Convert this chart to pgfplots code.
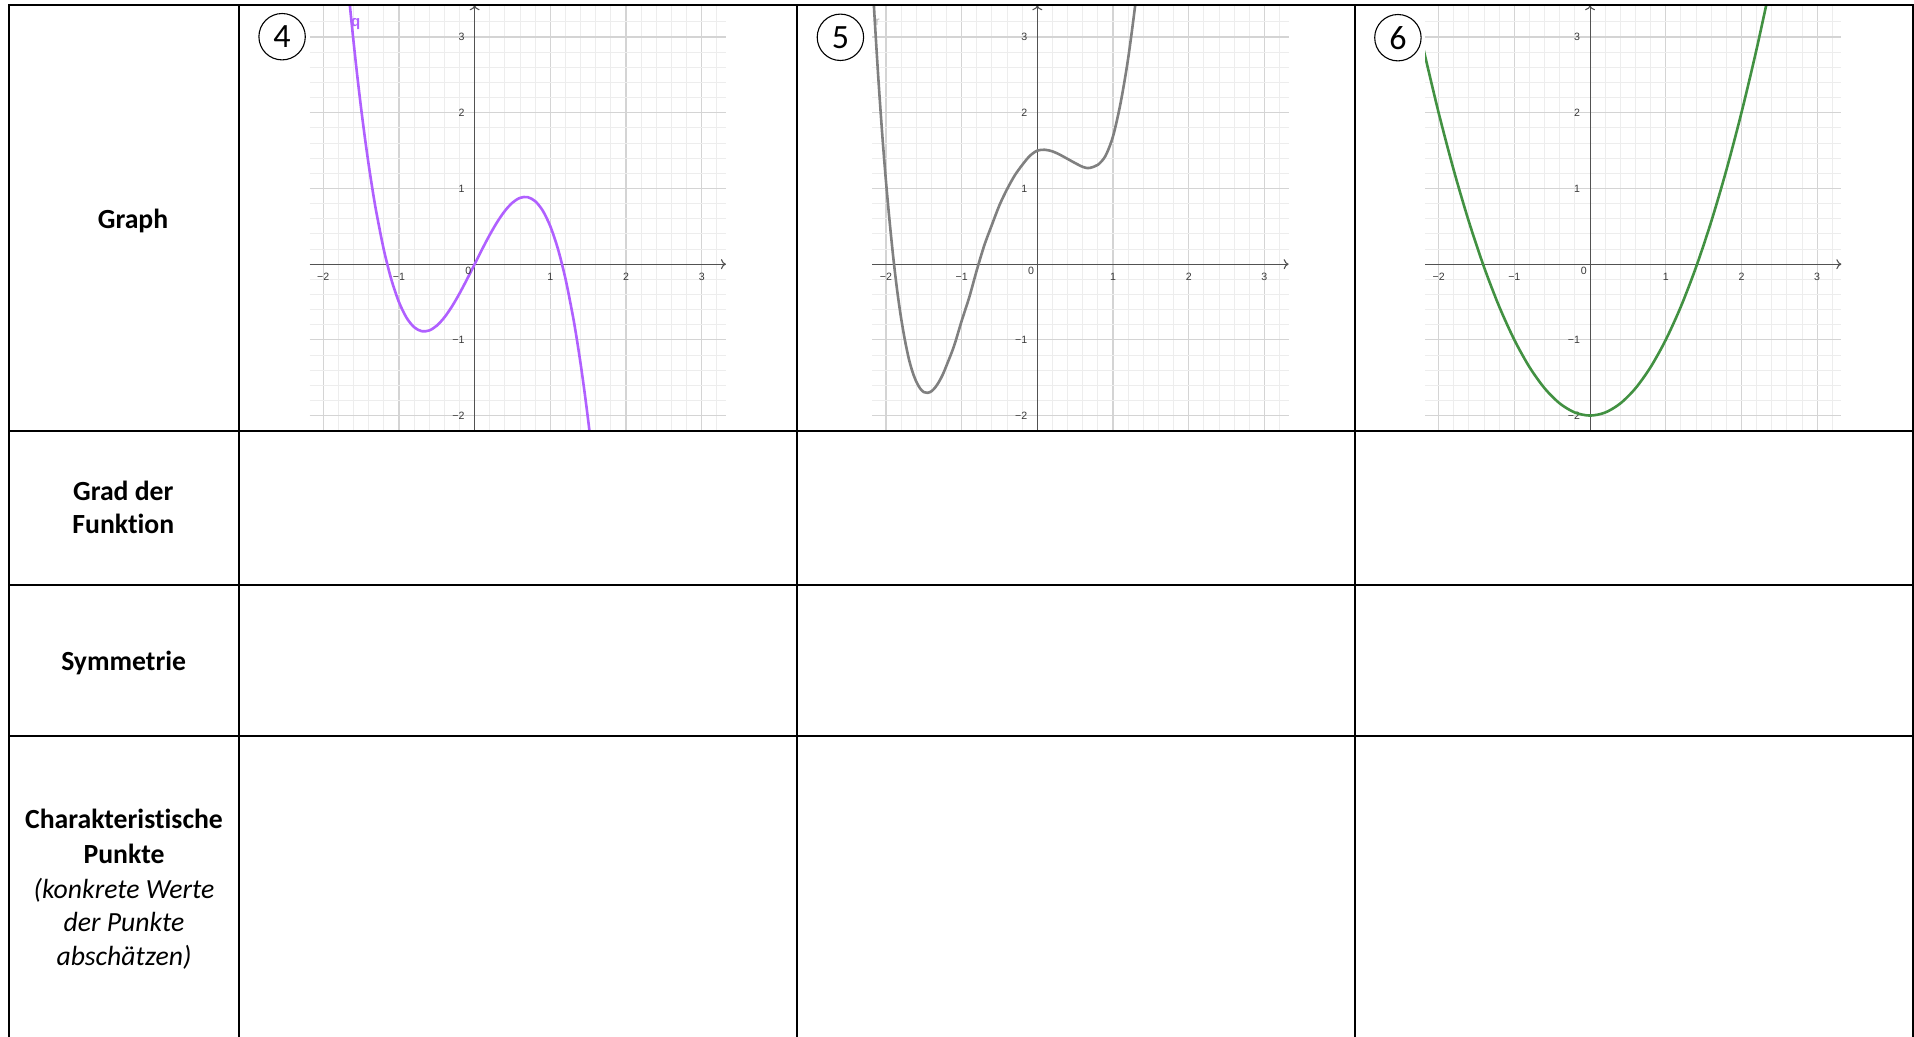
\documentclass[border=0pt]{standalone}
\usepackage{fontspec}
\setmainfont{Carlito}[Ligatures={NoCommon}]
\newfontfamily\ggb{Liberation Sans}
\usepackage{pgfplots}
\pgfplotsset{compat=1.18}
\usetikzlibrary{arrows.meta}
\definecolor{ggbpurple}{RGB}{176,96,255}
\definecolor{ggbgray}{RGB}{128,128,128}
\definecolor{ggbgreen}{RGB}{66,145,66}
\pgfplotsset{ggb/.style={
  scale only axis, anchor=south west,
  x=37.85pt, y=37.85pt,
  xmin=-2.18, xmax=3.32, ymin=-2.20, ymax=3.42,
  enlargelimits=false,
  axis lines=middle,
  axis line style={draw=black!68, line width=0.55pt, -{To[length=2.5pt,width=5pt]}},
  xtick={-2,-1,1,2,3}, xticklabels={−2,−1,1,2,3},
  ytick={-2,-1,1,2,3}, yticklabels={−2,−1,1,2,3},
  minor xtick={-1.8,-1.6,-1.4,-1.2,-0.8,-0.6,-0.4,-0.2,0.2,0.4,0.6,0.8,1.2,1.4,1.6,1.8,2.2,2.4,2.6,2.8,3.2},
  minor ytick={-1.8,-1.6,-1.4,-1.2,-0.8,-0.6,-0.4,-0.2,0.2,0.4,0.6,0.8,1.2,1.4,1.6,1.8,2.2,2.4,2.6,2.8,3.2},
  grid=both,
  major grid style={draw=black!17, line width=0.6pt},
  minor grid style={draw=black!7, line width=0.5pt},
  major tick length=0pt, minor tick length=0pt,
  tick label style={font=\ggb\fontsize{5.3pt}{6pt}\selectfont, text=black!78},
  xticklabel style={yshift=-1pt},
  yticklabel style={xshift=-1.5pt},
}}
\begin{document}
\begin{tikzpicture}
\useasboundingbox (0pt,0pt) rectangle (957pt,-518.5pt);
\fill[white] (0pt,0pt) rectangle (957pt,-518.5pt);

% Graph 4
\begin{axis}[ggb, at={(154.8pt,-215.35pt)}]
\addplot[ggbpurple, line width=1.3pt, smooth] coordinates {
(-1.70,3.9695) (-1.65,3.438) (-1.60,2.944) (-1.55,2.486) (-1.50,2.0625) (-1.45,1.673) (-1.40,1.316) (-1.35,0.991) (-1.30,0.6955) (-1.20,0.192) (-1.10,-0.2035) (-1.00,-0.5) (-0.90,-0.7065) (-0.80,-0.832) (-0.70,-0.8855) (-0.60,-0.876) (-0.50,-0.8125) (-0.40,-0.704) (-0.30,-0.5595) (-0.20,-0.388) (-0.10,-0.1985) (0,0) (0.10,0.1985) (0.20,0.388) (0.30,0.5595) (0.40,0.704) (0.50,0.8125) (0.60,0.876) (0.70,0.8855) (0.80,0.832) (0.90,0.7065) (1.00,0.5) (1.10,0.2035) (1.20,-0.192) (1.30,-0.6955) (1.35,-0.991) (1.40,-1.316) (1.45,-1.673) (1.50,-2.0625) (1.55,-2.486) (1.60,-2.944) (1.65,-3.438)
};
\node[text=ggbpurple, font=\ggb\bfseries\fontsize{7.5pt}{8pt}\selectfont] at (axis cs:-1.57,3.17) {q};
\node[font=\ggb\fontsize{5.3pt}{6pt}\selectfont, text=black!78, anchor=north east, inner sep=1.5pt] at (axis cs:0,0) {0};
\end{axis}

% Graph 5
\begin{axis}[ggb, at={(436.15pt,-215.35pt)}]
\addplot[ggbgray, line width=1.3pt, smooth] coordinates {
(-2.19,3.97) (-2.15,3.26) (-2.10,2.45) (-2.05,1.73) (-2.00,1.10) (-1.95,0.55) (-1.90,0.06) (-1.85,-0.36) (-1.80,-0.71) (-1.75,-1.00) (-1.70,-1.24) (-1.65,-1.42) (-1.60,-1.55) (-1.55,-1.64) (-1.50,-1.69) (-1.45,-1.70) (-1.40,-1.68) (-1.35,-1.63) (-1.30,-1.555) (-1.25,-1.46) (-1.20,-1.34) (-1.10,-1.08) (-1.00,-0.75) (-0.90,-0.44) (-0.80,-0.08) (-0.70,0.25) (-0.60,0.52) (-0.50,0.78) (-0.40,0.99) (-0.30,1.17) (-0.20,1.31) (-0.10,1.43) (0,1.50) (0.10,1.511) (0.20,1.49) (0.30,1.445) (0.40,1.39) (0.50,1.335) (0.60,1.285) (0.665,1.269) (0.70,1.273) (0.80,1.313) (0.90,1.43) (1.00,1.69) (1.10,2.13) (1.20,2.72) (1.30,3.48) (1.35,3.98)
};
\node[text=black!30, font=\ggb\fontsize{6pt}{6pt}\selectfont] at (axis cs:-2.11,3.2) {r};
\node[font=\ggb\fontsize{5.3pt}{6pt}\selectfont, text=black!78, anchor=north east, inner sep=1.5pt] at (axis cs:0,0) {0};
\end{axis}

% Graph 6
\begin{axis}[ggb, at={(712.5pt,-215.35pt)}]
\addplot[ggbgreen, line width=1.3pt, smooth] coordinates {
(-2.3,3.29) (-2.2,2.84) (-2.0,2.0) (-1.8,1.24) (-1.6,0.56) (-1.4,-0.04) (-1.2,-0.56) (-1.0,-1.0) (-0.8,-1.36) (-0.6,-1.64) (-0.4,-1.84) (-0.2,-1.96) (0,-2) (0.2,-1.96) (0.4,-1.84) (0.6,-1.64) (0.8,-1.36) (1.0,-1.0) (1.2,-0.56) (1.4,-0.04) (1.6,0.56) (1.8,1.24) (2.0,2.0) (2.2,2.84) (2.4,3.76)
};
\node[font=\ggb\fontsize{5.3pt}{6pt}\selectfont, text=black!78, anchor=north east, inner sep=1.5pt] at (axis cs:0,0) {0};
\end{axis}

% circled numbers
\draw[line width=0.55pt] (141.05pt,-18.35pt) circle (11.6pt);
\node[font=\fontsize{17pt}{18pt}\selectfont, inner sep=0pt] at (141.05pt,-18.35pt) {4};
\draw[line width=0.55pt] (420.2pt,-18.65pt) circle (11.6pt);
\node[font=\fontsize{17pt}{18pt}\selectfont, inner sep=0pt] at (420.2pt,-18.65pt) {5};
\draw[line width=0.55pt] (698.95pt,-18.85pt) circle (11.6pt);
\node[font=\fontsize{17pt}{18pt}\selectfont, inner sep=0pt] at (698.95pt,-18.85pt) {6};

% row labels
\begin{scope}[every node/.style={anchor=base, inner sep=0pt, font=\fontsize{13.85pt}{17pt}\selectfont}]
\node at (66.5pt,-114.15pt) {\bfseries Graph};
\node at (61.65pt,-250.35pt) {\bfseries Grad der};
\node at (61.65pt,-266.65pt) {\bfseries Funktion};
\node at (61.85pt,-335pt) {\bfseries Symmetrie};
\node at (62pt,-414.15pt) {\bfseries Charakteristische};
\node at (62pt,-431.65pt) {\bfseries Punkte};
\node at (62pt,-449.15pt) {\itshape (konkrete Werte};
\node at (62pt,-465.85pt) {\itshape der Punkte};
\node at (62pt,-482.5pt) {\itshape abschätzen)};
\end{scope}

% table rules
\begin{scope}[line width=1pt, line cap=rect]
\draw (4.5pt,-2.5pt) -- (956.25pt,-2.5pt);
\draw (4.5pt,-215.35pt) -- (956.25pt,-215.35pt);
\draw (4.5pt,-292.35pt) -- (956.25pt,-292.35pt);
\draw (4.5pt,-368pt) -- (956.25pt,-368pt);
\draw (4.5pt,-2.5pt) -- (4.5pt,-520pt);
\draw (119.35pt,-2.5pt) -- (119.35pt,-520pt);
\draw (398.5pt,-2.5pt) -- (398.5pt,-520pt);
\draw (677.5pt,-2.5pt) -- (677.5pt,-520pt);
\draw (956.25pt,-2.5pt) -- (956.25pt,-520pt);
\end{scope}
\end{tikzpicture}
\end{document}
